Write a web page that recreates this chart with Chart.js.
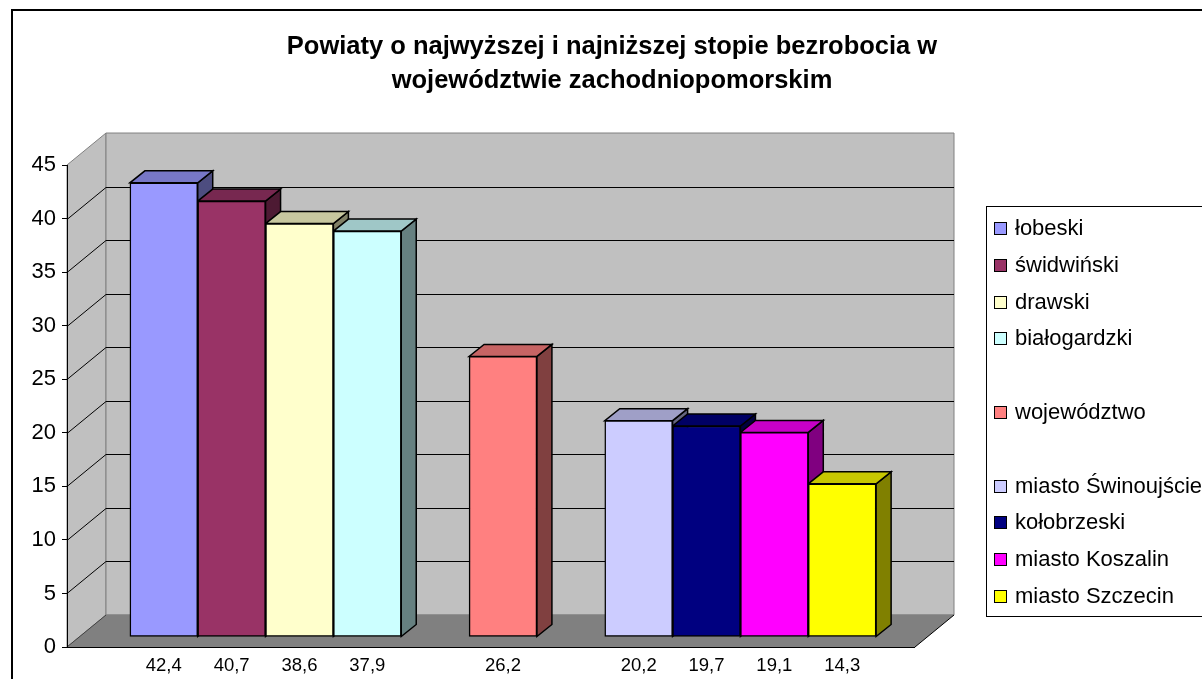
<!DOCTYPE html>
<html>
<head>
<meta charset="utf-8">
<script src="https://cdn.jsdelivr.net/npm/chart.js@4/dist/chart.umd.min.js"></script>
<style>
  html, body { margin: 0; padding: 0; overflow: hidden; background: #fff; }
  #wrap { position: absolute; left: 0; top: 0; width: 1224px; height: 690px; }
</style>
</head>
<body>
<div id="wrap"><canvas id="barChart"></canvas></div>
<script>
// Data ------------------------------------------------------------------------
// empty entries are the gaps between the three groups
const names = ['łobeski', 'świdwiński', 'drawski', 'białogardzki', '',
  'województwo', '', 'miasto Świnoujście', 'kołobrzeski', 'miasto Koszalin', 'miasto Szczecin'];
const values = [42.4, 40.7, 38.6, 37.9, null, 26.2, null, 20.2, 19.7, 19.1, 14.3];
const tickLabels = ['42,4', '40,7', '38,6', '37,9', '', '26,2', '', '20,2', '19,7', '19,1', '14,3'];
const colors = ['#9999FF', '#993366', '#FFFFCC', '#CCFFFF', null, '#FF8080', null,
  '#CCCCFF', '#000080', '#FF00FF', '#FFFF00'];
const titleLines = ['Powiaty o najwyższej i najniższej stopie bezrobocia w',
  'województwie zachodniopomorskim'];

// 3D look ---------------------------------------------------------------------
const WALL_DX = 39, WALL_DY = -32;   // depth of the walls
const BAR_DX = 12, BAR_DY = -10;     // bars stand a bit behind the front edge
const DEPTH_DX = 15, DEPTH_DY = -12; // depth of a single bar
const FONT = 'Liberation Sans, Arial, sans-serif';

function shade(hex, f) {
  const n = parseInt(hex.slice(1), 16);
  const r = Math.round(((n >> 16) & 255) * f);
  const g = Math.round(((n >> 8) & 255) * f);
  const b = Math.round((n & 255) * f);
  return `rgb(${r},${g},${b})`;
}

function poly(ctx, pts, fill, stroke, lw) {
  ctx.beginPath();
  ctx.moveTo(pts[0][0], pts[0][1]);
  for (let i = 1; i < pts.length; i++) ctx.lineTo(pts[i][0], pts[i][1]);
  ctx.closePath();
  if (fill) { ctx.fillStyle = fill; ctx.fill(); }
  if (stroke) { ctx.strokeStyle = stroke; ctx.lineWidth = lw || 1; ctx.stroke(); }
}

function line(ctx, x1, y1, x2, y2, color) {
  ctx.beginPath();
  ctx.moveTo(x1, y1);
  ctx.lineTo(x2, y2);
  ctx.strokeStyle = color;
  ctx.lineWidth = 1;
  ctx.stroke();
}

// walls, floor, gridlines and bar sides
const box3d = {
  id: 'box3d',
  beforeDraw(chart) {
    const { ctx, chartArea: a, scales: { y } } = chart;
    const L = a.left, R = a.right, T = a.top, B = a.bottom;
    ctx.save();
    // frame round the whole picture
    ctx.strokeStyle = '#000';
    ctx.lineWidth = 2;
    ctx.strokeRect(12, 10, 1400, 900);

    // side wall and back wall
    poly(ctx, [[L, T], [L + WALL_DX, T + WALL_DY], [L + WALL_DX, B + WALL_DY], [L, B]], '#C0C0C0', '#808080');
    poly(ctx, [[L + WALL_DX, T + WALL_DY], [R + WALL_DX, T + WALL_DY], [R + WALL_DX, B + WALL_DY],
      [L + WALL_DX, B + WALL_DY]], '#C0C0C0', '#808080');

    // gridlines on both walls
    y.ticks.forEach(t => {
      if (t.value <= y.min || t.value >= y.max) return;
      const py = Math.round(y.getPixelForValue(t.value)) + 0.5;
      line(ctx, L, py, L + WALL_DX, py + WALL_DY, '#000');
      line(ctx, L + WALL_DX, py + WALL_DY, R + WALL_DX, py + WALL_DY, '#000');
    });

    // floor
    poly(ctx, [[L, B], [R, B], [R + WALL_DX, B + WALL_DY], [L + WALL_DX, B + WALL_DY]], '#808080', null);
    line(ctx, L + WALL_DX, B + WALL_DY, R + WALL_DX, B + WALL_DY, '#808080');
    line(ctx, L, B, L + WALL_DX, B + WALL_DY, '#404040');
    line(ctx, L, B + 0.5, R, B + 0.5, '#000');
    line(ctx, R, B, R + WALL_DX, B + WALL_DY, '#000');
    ctx.restore();
  },
  beforeDatasetsDraw(chart) {
    const ctx = chart.ctx;
    ctx.save();
    ctx.translate(BAR_DX, BAR_DY);
    const meta = chart.getDatasetMeta(0);
    meta.data.forEach((bar, i) => {
      if (values[i] == null) return;
      const { x, y, base, width } = bar.getProps(['x', 'y', 'base', 'width'], true);
      const l = x - width / 2, r = x + width / 2;
      // side face
      poly(ctx, [[r, y], [r + DEPTH_DX, y + DEPTH_DY], [r + DEPTH_DX, base + DEPTH_DY], [r, base]],
        shade(colors[i], 0.5), '#000', 1.5);
      // top face
      poly(ctx, [[l, y], [r, y], [r + DEPTH_DX, y + DEPTH_DY], [l + DEPTH_DX, y + DEPTH_DY]],
        shade(colors[i], 0.78), '#000', 1.5);
    });
    // translation stays on while Chart.js draws the front faces
  },
  afterDatasetsDraw(chart) {
    chart.ctx.restore();
  }
};

// legend with the two empty rows, box runs off the right edge
const boxLegend = {
  id: 'boxLegend',
  afterDraw(chart) {
    const ctx = chart.ctx;
    ctx.save();
    ctx.strokeStyle = '#000';
    ctx.lineWidth = 1;
    ctx.strokeRect(986.5, 206.5, 400, 410);
    ctx.font = `22px ${FONT}`;
    ctx.textBaseline = 'middle';
    names.forEach((name, i) => {
      if (!name) return;
      const cy = 228 + i * 36.8;
      ctx.fillStyle = colors[i];
      ctx.fillRect(994.5, Math.round(cy) - 5.5, 12, 12);
      ctx.strokeRect(994.5, Math.round(cy) - 5.5, 12, 12);
      ctx.fillStyle = '#000';
      ctx.fillText(name, 1015, cy + 1);
    });
    ctx.restore();
  }
};

// Chart -----------------------------------------------------------------------
const ctx = document.getElementById('barChart');

new Chart(ctx, {
  type: 'bar',
  data: {
    datasets: [{
      data: values.map((v, i) => ({ x: i, y: v })),
      backgroundColor: colors.map(c => c || 'transparent'),
      borderColor: '#000',
      borderWidth: 1.5,
      borderSkipped: false,
      categoryPercentage: 1,
      barPercentage: 1,
      clip: false
    }]
  },
  options: {
    responsive: true,
    maintainAspectRatio: false,
    animation: false,
    devicePixelRatio: 1,
    layout: { padding: 0 },
    plugins: {
      legend: { display: false },
      tooltip: { enabled: false },
      title: {
        display: true,
        text: titleLines,
        color: '#000',
        font: { family: FONT, size: 25.5, weight: 'bold', lineHeight: 1.32 },
        padding: { top: 30, bottom: 67.7 }
      }
    },
    scales: {
      x: {
        type: 'linear',
        offset: false,
        min: -1.25,
        max: 11.25,
        afterBuildTicks: s => { s.ticks = tickLabels.map((t, i) => ({ value: i })); },
        afterFit: s => { s.height = 43; },
        grid: { display: false, offset: false },
        border: { display: false },
        ticks: {
          autoSkip: false,
          maxRotation: 0,
          padding: 0,
          labelOffset: BAR_DX,
          color: '#000',
          font: { family: FONT, size: 18.5 },
          callback: v => tickLabels[v]
        }
      },
      y: {
        min: 0,
        max: 45,
        afterFit: s => { s.width = 67; },
        grid: { drawOnChartArea: false, drawTicks: true, tickLength: 5, color: '#000' },
        border: { display: true, color: '#000', width: 1 },
        ticks: {
          stepSize: 5,
          padding: 6,
          color: '#000',
          font: { family: FONT, size: 22 }
        }
      },
      // empty space on the right where the legend sits
      legendSpace: {
        position: 'right',
        display: true,
        afterFit: s => { s.width = 309; },
        grid: { display: false },
        border: { display: false },
        ticks: { display: false }
      }
    }
  },
  plugins: [box3d, boxLegend]
});
</script>
</body>
</html>
